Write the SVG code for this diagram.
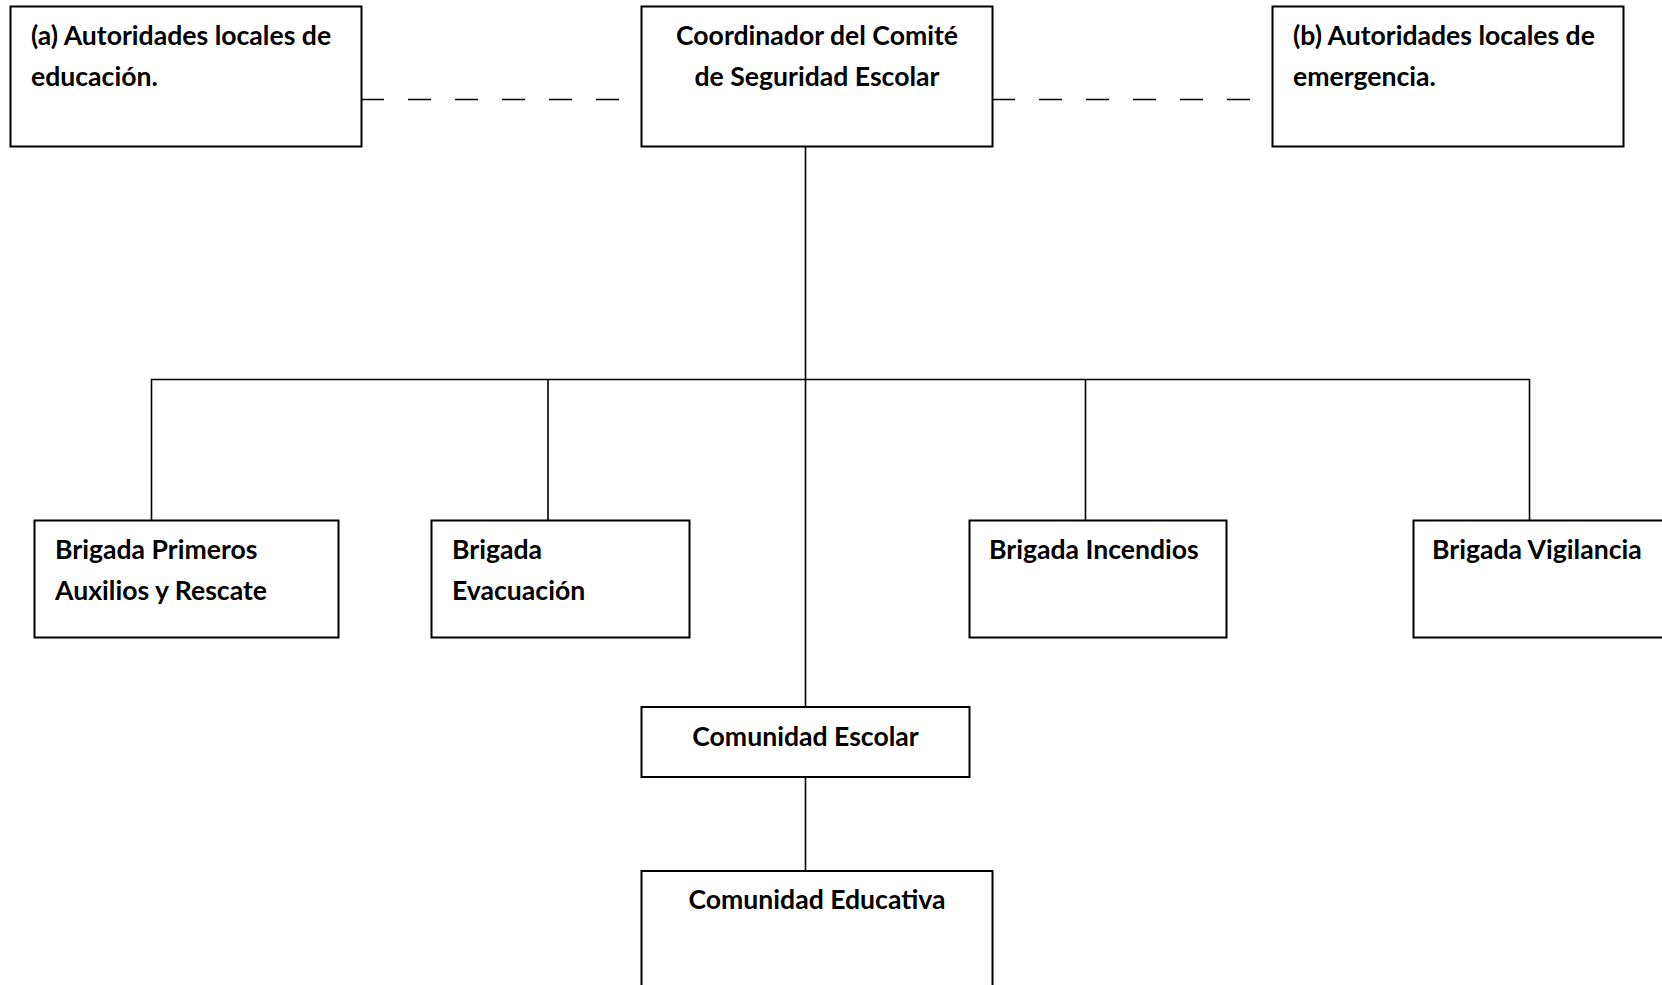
<svg xmlns="http://www.w3.org/2000/svg" width="1662" height="985" viewBox="0 0 1662 985">
<style>
.box{fill:#fff;stroke:#000;stroke-width:2}
.t{font-family:Lato,"Open Sans",sans-serif;font-weight:bold;font-size:26.6px;fill:#000}
.c{text-anchor:middle}
.ln{stroke:#000;stroke-width:1.6;fill:none}
.dash{stroke:#000;stroke-width:1.6;fill:none;stroke-dasharray:23 24}
</style>
<rect width="1662" height="985" fill="#fff"/>
<g id="connectors">
<path class="dash" d="M361 99.5H620"/>
<path class="dash" d="M992 99.5H1251"/>
<path class="ln" d="M805.5 146V707"/>
<path class="ln" d="M151.5 520.5V379.5H1529.5V520.5"/>
<path class="ln" d="M548 379.5V520.5"/>
<path class="ln" d="M1085.5 379.5V520.5"/>
<path class="ln" d="M805.5 777V871"/>
</g>
<g id="node-a">
<rect class="box" x="10.5" y="6.5" width="351" height="140"/>
<text class="t" x="31" y="44.5">(a) Autoridades locales de</text>
<text class="t" x="31" y="85.5">educación.</text>
</g>
<g id="node-coord">
<rect class="box" x="641.5" y="6.5" width="351" height="140"/>
<text class="t c" x="817" y="44.5">Coordinador del Comité</text>
<text class="t c" x="817" y="85.5">de Seguridad Escolar</text>
</g>
<g id="node-b">
<rect class="box" x="1272.5" y="6.5" width="351" height="140"/>
<text class="t" x="1293" y="44.5">(b) Autoridades locales de</text>
<text class="t" x="1293" y="85.5">emergencia.</text>
</g>
<g id="node-primeros">
<rect class="box" x="34.5" y="520.5" width="304" height="117"/>
<text class="t" x="55" y="558.5">Brigada Primeros</text>
<text class="t" x="55" y="599.5">Auxilios y Rescate</text>
</g>
<g id="node-evacuacion">
<rect class="box" x="431.5" y="520.5" width="258" height="117"/>
<text class="t" x="452" y="558.5">Brigada</text>
<text class="t" x="452" y="599.5">Evacuación</text>
</g>
<g id="node-incendios">
<rect class="box" x="969.5" y="520.5" width="257" height="117"/>
<text class="t" x="989" y="558.5">Brigada Incendios</text>
</g>
<g id="node-vigilancia">
<rect class="box" x="1413.5" y="520.5" width="258" height="117"/>
<text class="t" x="1432" y="558.5">Brigada Vigilancia</text>
</g>
<g id="node-escolar">
<rect class="box" x="641.5" y="707" width="328" height="70"/>
<text class="t c" x="805.5" y="745.5">Comunidad Escolar</text>
</g>
<g id="node-educativa">
<rect class="box" x="641.5" y="871" width="351" height="130"/>
<text class="t c" x="817" y="908.5">Comunidad Educativa</text>
</g>
</svg>
